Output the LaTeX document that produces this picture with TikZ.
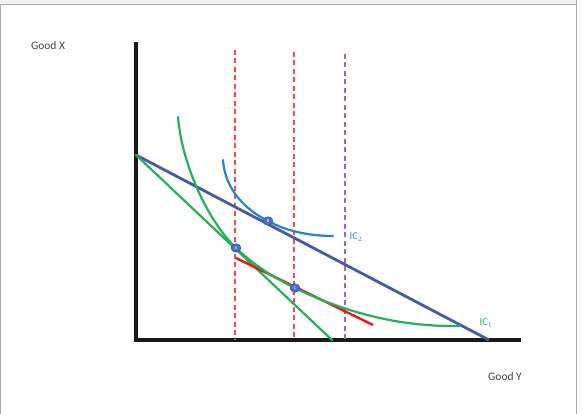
\documentclass[tikz,border=0pt]{standalone}
\usepackage{fontspec}
\setmainfont{Carlito}
\usetikzlibrary{arrows.meta,positioning,calc,shapes.geometric}
\definecolor{budget}{RGB}{68,90,165}
\definecolor{icone}{RGB}{34,176,90}
\definecolor{ictwo}{RGB}{40,130,205}
\definecolor{tangent}{RGB}{240,20,20}
\definecolor{guide}{RGB}{250,70,70}
\definecolor{guidetwo}{RGB}{155,100,200}
\definecolor{frame}{RGB}{170,170,170}
\definecolor{band}{RGB}{242,242,242}
\definecolor{pt}{RGB}{72,110,200}

\begin{document}
\begin{tikzpicture}[
  x=1pt, y=-1pt,
  every node/.style={font=\fontsize{11.5}{13}\selectfont, text=black!75},
  axis/.style={line width=3.5pt, black!90},
  budgetline/.style={line width=2.8pt, budget},
  curve/.style={line width=2.2pt, line cap=round},
  vline/.style={line width=1.8pt, dash pattern=on 5pt off 3.5pt},
  dot/.style={ellipse, fill=pt, draw=pt!70!black, line width=0.4pt, inner sep=0pt,
              minimum width=10pt, minimum height=8.5pt,
              font=\fontsize{4.5}{4.5}\selectfont, text=white},
  lbl/.style={font=\fontsize{10.5}{12}\selectfont}
]
\useasboundingbox (0,0) rectangle (582,414);

% ── Frame ──
\fill[band] (0,0) rectangle (577,5);
\draw[frame, line width=1pt] (0,5) -- (577,5);
\draw[frame, line width=1pt] (0.5,5) -- (0.5,414);
\draw[frame, line width=1.5pt] (576.5,0) -- (576.5,414);

% ── Axes ──
\coordinate (origin) at (136,340);
\coordinate (ytop) at (136,42);
\coordinate (xend) at (521,340);
\draw[axis] (ytop) -- (origin) -- (xend);
\node (goodx) at (48,46) {Good X};
\node (goody) at (505,377) {Good Y};

% ── Dashed guides ──
\coordinate (g1) at (235,50);
\coordinate (g2) at (294,52);
\coordinate (g3) at (345,54);
\draw[vline, guide] (g1) -- (g1 |- origin);
\draw[vline, guide] (g2) -- (g2 |- origin);
\draw[vline, guidetwo] (g3) -- (g3 |- origin);

% ── Budget lines ──
\coordinate (p0) at (136,155);
\coordinate (p1) at (489,340);
\coordinate (p2) at (332,340);
\draw[budgetline] (p0) -- (p1);
\draw[curve, icone] (p0) -- (p2);

% ── Tangent at C ──
\coordinate (t0) at (236,258);
\coordinate (t1) at (373,325);
\draw[line width=2.4pt, tangent] (t0) -- (t1);

% ── Indifference curves ──
\coordinate (A) at (236,248);
\coordinate (B) at (268,221);
\coordinate (C) at (295,288);
\draw[curve, icone] (178,117) .. controls (182,165) and (208,221) .. (A)
  .. controls (256,267) and (275,278) .. (C)
  .. controls (350,315) and (405,327) .. (460,326);
\draw[curve, ictwo] (223,160) .. controls (225,190) and (246,210) .. (B)
  .. controls (288,232) and (312,236) .. (333,236);

\node[lbl, text=ictwo] (ic2) at (356,237) {IC$_2$};
\node[lbl, text=icone] (ic1) at (486,323) {IC$_1$};

% ── Points ──
\node[dot] (ptA) at (A) {A};
\node[dot] (ptB) at (B) {B};
\node[dot] (ptC) at (C) {C};

\end{tikzpicture}
\end{document}
